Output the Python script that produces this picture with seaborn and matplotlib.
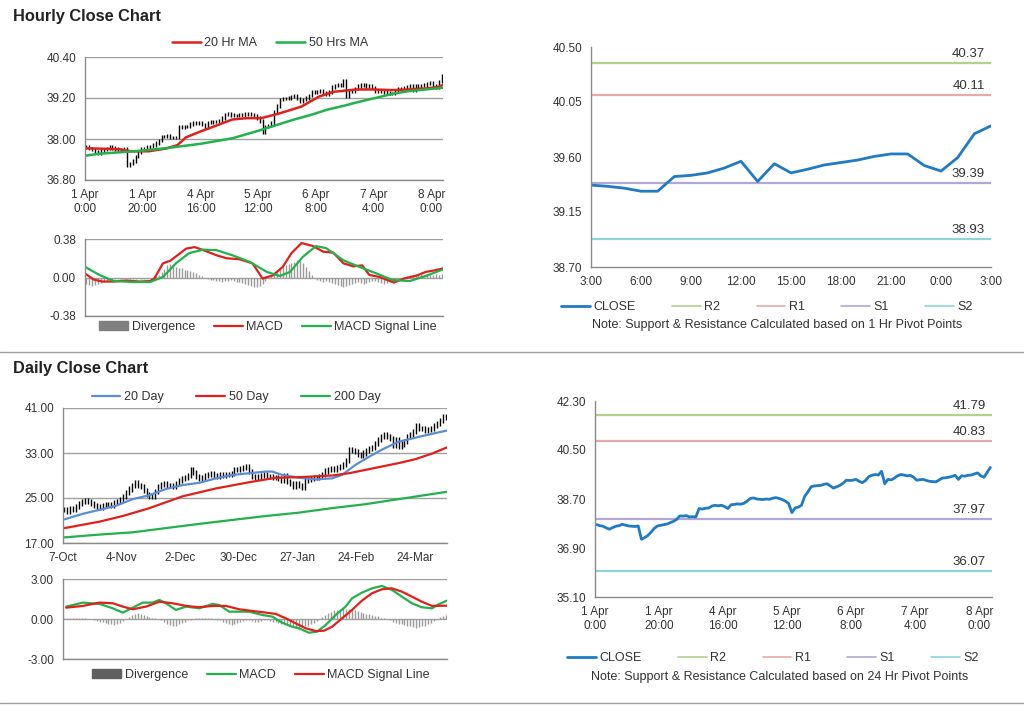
import numpy as np
import matplotlib
matplotlib.use("Agg")
import matplotlib.pyplot as plt
import matplotlib.transforms as mtransforms
from matplotlib.lines import Line2D
from matplotlib.patches import Patch
import seaborn as sns

# ── Data ──────────────────────────────────────────────────────────────────────
# hourly closes, 1 Apr 0:00 -> 8 Apr ~3:00 (weekend hours skipped)
close_h = [37.76, 37.72, 37.70, 37.64, 37.59, 37.65, 37.70, 37.72, 37.77, 37.74,
           37.71, 37.70, 37.69, 37.71, 37.22, 37.28, 37.36, 37.48, 37.62, 37.71,
           37.73, 37.76, 37.78, 37.83, 37.88, 37.95, 38.08, 38.07, 38.09, 38.04,
           38.05, 38.04, 38.35, 38.33, 38.36, 38.37, 38.44, 38.47, 38.45, 38.47,
           38.42, 38.35, 38.49, 38.50, 38.52, 38.51, 38.54, 38.62, 38.72, 38.74,
           38.70, 38.69, 38.68, 38.70, 38.69, 38.73, 38.75, 38.72, 38.68, 38.62,
           38.53, 38.20, 38.37, 38.40, 38.47, 38.80, 38.96, 39.15, 39.18, 39.19,
           39.20, 39.24, 39.26, 39.18, 39.10, 39.15, 39.20, 39.28, 39.39, 39.38,
           39.39, 39.42, 39.35, 39.30, 39.38, 39.52, 39.57, 39.60, 39.58, 39.72,
           39.26, 39.42, 39.40, 39.47, 39.55, 39.60, 39.58, 39.55, 39.57, 39.50,
           39.39, 39.41, 39.42, 39.38, 39.35, 39.34, 39.33, 39.40, 39.47, 39.48,
           39.50, 39.53, 39.57, 39.42, 39.55, 39.54, 39.57, 39.58, 39.62, 39.66,
           39.55, 39.50, 39.68, 39.86]
hourly_ticks = ["1 Apr\n0:00", "1 Apr\n20:00", "4 Apr\n16:00", "5 Apr\n12:00",
                "6 Apr\n8:00", "7 Apr\n4:00", "8 Apr\n0:00"]

ma20_h_x = [0, 12, 16, 22, 28, 32, 35, 40, 46, 51, 56, 61, 67, 75, 81, 86, 94, 100,
            106, 112, 118, 122, 124]
ma20_h = [37.73, 37.70, 37.64, 37.64, 37.72, 37.82, 38.05, 38.22, 38.41, 38.57, 38.61,
          38.61, 38.74, 38.95, 39.24, 39.38, 39.45, 39.45, 39.43, 39.45, 39.48, 39.52, 39.58]
ma50_h_x = [0, 5, 17, 28, 40, 51, 60, 66, 72, 78, 84, 90, 95, 101, 107, 112, 118, 124]
ma50_h = [37.51, 37.57, 37.64, 37.73, 37.86, 38.02, 38.24, 38.40, 38.56, 38.70, 38.86,
          38.98, 39.09, 39.21, 39.33, 39.40, 39.45, 39.50]

macd_h_x = [0, 3, 6, 10, 14, 19, 22.5, 24, 27, 29.5, 33, 35, 38, 41, 45.5, 49, 53.5, 58,
            61.5, 65, 68.5, 71.5, 75, 79, 82.5, 86, 89.5, 93, 96, 98.5, 102, 107, 110.5,
            115, 118, 121, 124]
macd_h = [0.04, -0.02, -0.04, -0.04, -0.03, -0.04, -0.035, -0.01, 0.14, 0.165, 0.24, 0.285,
          0.30, 0.27, 0.22, 0.19, 0.18, 0.14, -0.01, 0.02, 0.105, 0.24, 0.34, 0.31, 0.255,
          0.245, 0.14, 0.11, 0.12, 0.025, 0.005, -0.05, -0.01, 0.02, 0.055, 0.07, 0.09]
signal_h_x = [0, 5, 10, 17, 22.5, 27, 31.5, 36, 41, 45.5, 51, 57, 63, 67.5, 71, 75.5, 80,
              83.5, 89.5, 95, 101, 106.5, 112.5, 118, 124]
signal_h = [0.105, 0.025, -0.035, -0.045, -0.045, 0.005, 0.14, 0.24, 0.275, 0.27, 0.22,
            0.155, 0.055, 0.015, 0.055, 0.205, 0.31, 0.29, 0.17, 0.105, 0.04, -0.025,
            -0.035, 0.015, 0.08]
div_h = [-0.06, -0.07, -0.08, -0.07, -0.06, -0.05, -0.04, -0.03, -0.02, -0.02,
         -0.01, -0.01, -0.01, 0.0, -0.01, -0.01, -0.01, -0.01, 0.0, -0.01,
         -0.01, -0.01, 0.0, 0.0, 0.01, 0.02, 0.05, 0.08, 0.12, 0.13,
         0.11, 0.10, 0.09, 0.09, 0.07, 0.07, 0.06, 0.05, 0.04, 0.02,
         0.01, 0.0, -0.01, -0.02, -0.02, -0.03, -0.03, -0.04, -0.03, -0.03,
         -0.02, -0.03, -0.04, -0.04, -0.05, -0.06, -0.07, -0.08, -0.09, -0.09,
         -0.08, -0.06, -0.03, 0.0, 0.01, 0.03, 0.05, 0.08, 0.10, 0.12,
         0.13, 0.14, 0.15, 0.17, 0.16, 0.14, 0.10, 0.06, 0.02, 0.0,
         -0.02, -0.03, -0.04, -0.03, -0.04, -0.05, -0.06, -0.07, -0.08, -0.09,
         -0.08, -0.07, -0.06, -0.05, -0.04, -0.05, -0.06, -0.05, -0.04, -0.03,
         -0.03, -0.04, -0.05, -0.06, -0.05, -0.04, -0.03, -0.02, -0.01, -0.01,
         0.0, 0.01, 0.02, 0.02, 0.03, 0.02, 0.03, 0.02, 0.03, 0.02,
         0.02, 0.03, 0.02, 0.03]

# last 24 hours vs 1 Hr pivots
close_1h = [39.37, 39.36, 39.345, 39.32, 39.32, 39.44, 39.45, 39.47, 39.51, 39.565,
            39.40, 39.545, 39.47, 39.50, 39.535, 39.555, 39.575, 39.605, 39.625, 39.625,
            39.53, 39.485, 39.595, 39.79, 39.855]
hour_ticks = ["3:00", "6:00", "9:00", "12:00", "15:00", "18:00", "21:00", "0:00", "3:00"]
pivot_names = ["R2", "R1", "S1", "S2"]
pivots_1h = [40.37, 40.11, 39.39, 38.93]
pivots_24h = [41.79, 40.83, 37.97, 36.07]

# daily closes, 7-Oct -> early Apr
close_d = [23.0, 22.6, 23.2, 22.9, 23.5, 24.0, 24.4, 24.5, 24.3, 24.0,
           23.6, 23.5, 23.4, 23.6, 23.9, 23.8, 23.7, 24.2, 24.4, 24.7,
           25.3, 26.0, 26.6, 27.3, 27.8, 27.3, 27.0, 26.3, 25.6, 25.3,
           25.3, 26.2, 27.0, 27.4, 27.5, 27.3, 27.2, 27.0, 27.6, 28.1,
           28.5, 28.7, 29.0, 30.0, 29.6, 28.8, 28.5, 28.7, 29.0, 29.1,
           29.3, 29.0, 28.9, 29.1, 29.0, 29.1, 29.1, 29.4, 30.0, 30.1,
           30.3, 30.5, 30.6, 29.7, 28.8, 28.6, 28.9, 29.0, 29.1, 28.9,
           28.8, 28.7, 28.6, 28.4, 28.2, 29.0, 28.0, 27.6, 27.1, 27.5,
           27.3, 26.9, 28.2, 28.3, 28.5, 28.6, 28.7, 28.9, 29.1, 29.8,
           30.1, 30.2, 30.1, 30.4, 30.6, 30.9, 31.7, 33.6, 33.5, 33.2,
           32.8, 32.6, 33.0, 33.5, 33.8, 34.0, 34.7, 35.4, 36.0, 36.2,
           35.9, 35.6, 34.4, 35.4, 34.1, 34.6, 35.0, 35.9, 36.3, 36.8,
           37.9, 37.4, 37.3, 37.0, 37.1, 37.3, 37.9, 38.2, 38.8, 39.5,
           39.3]
daily_ticks = ["7-Oct", "4-Nov", "2-Dec", "30-Dec", "27-Jan", "24-Feb", "24-Mar"]

ma20_d_x = [0.5, 6.8, 12.5, 18, 23.8, 29.5, 35.1, 40.8, 46.5, 52.2, 57.8, 63.5, 69.2, 71.4,
            74.8, 80.5, 86.2, 91.8, 95.2, 99.8, 104.3, 108.8, 114.5, 122.4, 131]
ma20_d = [21.2, 22.2, 22.9, 23.6, 24.8, 25.5, 26.6, 27.3, 27.7, 28.5, 29.1, 29.4, 29.7, 29.7,
          29.1, 28.6, 28.3, 28.5, 29.1, 30.9, 32.3, 33.6, 35.0, 36.0, 37.0]
ma50_d_x = [0.5, 12.5, 20.4, 29.5, 40.8, 52.2, 63.5, 72.6, 80.5, 91.8, 97.5, 103.2, 108.8,
            114.5, 120.2, 125.9, 131]
ma50_d = [19.65, 20.8, 21.8, 23.2, 25.3, 26.7, 27.8, 28.6, 28.7, 29.0, 29.4, 30.0, 30.6,
          31.2, 31.9, 32.9, 34.0]
ma200_d_x = [0.5, 12.5, 23.8, 35.1, 46.5, 57.8, 69.2, 80.5, 91.8, 103.2, 114.5, 125.9, 131]
ma200_d = [18.0, 18.5, 18.9, 19.65, 20.4, 21.1, 21.8, 22.4, 23.2, 23.9, 24.8, 25.7, 26.1]

macd_d_x = [1.1, 6.8, 12.5, 17, 20.4, 23.8, 27.2, 30.6, 32.9, 35.1, 38.5, 42, 46.5, 51,
            53.3, 56.7, 60.1, 63.5, 68, 71.4, 74.8, 78.2, 80.5, 83.9, 86.7, 89.6, 93, 96.4,
            98.6, 102, 105.4, 108.8, 112.2, 115.6, 119, 122.4, 125.9, 128.1, 131]
macd_d = [0.93, 1.23, 1.13, 0.8, 0.48, 0.85, 1.23, 1.23, 1.43, 1.18, 0.68, 0.93, 0.8, 1.13,
          1.05, 0.55, 0.55, 0.55, 0.3, 0.18, -0.28, -0.58, -0.7, -1.03, -0.95, -0.45, 0.3,
          0.93, 1.55, 1.98, 2.3, 2.48, 2.18, 1.68, 1.18, 0.88, 0.8, 1.1, 1.38]
signal_d_x = [1.1, 6.8, 12.5, 17, 20.4, 23.8, 28.3, 32.9, 37.4, 42, 46.5, 51, 55.6, 60.1,
              64.6, 69.2, 72.6, 76, 79.4, 82.8, 86.2, 89, 91.8, 95.2, 98.6, 102, 105.4,
              108.8, 112.2, 115.6, 119, 122.4, 125.9, 131]
signal_d = [0.85, 0.98, 1.23, 1.18, 0.93, 0.73, 0.93, 1.3, 1.18, 0.98, 0.88, 0.98, 0.98,
            0.73, 0.6, 0.48, 0.38, 0.05, -0.33, -0.7, -0.9, -0.88, -0.58, 0.05, 0.68, 1.38,
            1.93, 2.23, 2.3, 2.05, 1.68, 1.3, 0.98, 1.0]
div_d = [0.05, 0.06, 0.08, 0.1, 0.08, 0.06, 0.05, 0.04, 0.02, 0.0,
         -0.1, -0.15, -0.2, -0.25, -0.3, -0.35, -0.4, -0.45, -0.4, -0.3,
         -0.15, 0.0, 0.15, 0.3, 0.4, 0.45, 0.4, 0.3, 0.2, 0.15,
         0.1, 0.05, 0.0, -0.05, -0.2, -0.35, -0.45, -0.55, -0.5, -0.4,
         -0.3, -0.2, -0.1, -0.05, 0.0, 0.05, 0.1, 0.1, 0.08, 0.05,
         0.05, 0.0, -0.05, -0.1, -0.2, -0.3, -0.4, -0.45, -0.4, -0.3,
         -0.2, -0.15, -0.1, -0.1, -0.15, -0.2, -0.2, -0.15, -0.1, -0.1,
         -0.15, -0.2, -0.25, -0.3, -0.35, -0.4, -0.45, -0.5, -0.55, -0.6,
         -0.65, -0.6, -0.55, -0.5, -0.4, -0.3, -0.15, 0.0, 0.15, 0.3,
         0.45, 0.55, 0.65, 0.7, 0.75, 0.8, 0.78, 0.75, 0.7, 0.65,
         0.6, 0.55, 0.45, 0.4, 0.35, 0.3, 0.25, 0.2, 0.1, 0.05,
         0.0, -0.1, -0.2, -0.3, -0.35, -0.4, -0.45, -0.5, -0.55, -0.6,
         -0.65, -0.6, -0.55, -0.5, -0.4, -0.3, -0.15, 0.0, 0.15, 0.25,
         0.3]

# ── Style ─────────────────────────────────────────────────────────────────────
sns.set_style("white")
plt.rcParams["font.family"] = ["Liberation Sans", "DejaVu Sans"]

RED = "#E0201B"
GREEN = "#21B24B"
LBLUE = "#5B8DD6"
CBLUE = "#1F7BC4"
PIV_COLORS = ["#B3D18C", "#E8A9A9", "#B4A7D6", "#8FD3E0"]
DIVC = "#9A9A9A"
AXIS = "#8A8A8A"
GRID = "#A0A0A0"
TXT = "#333333"

W, H = 1024, 705
fig = plt.figure(figsize=(W / 100, H / 100), dpi=100)
fig.patch.set_facecolor("white")


def px_axes(x0, y0, x1, y1):
    return fig.add_axes([x0 / W, 1 - y1 / H, (x1 - x0) / W, (y1 - y0) / H])


def style_ax(ax, grid=True):
    for s in ("top", "right"):
        ax.spines[s].set_visible(False)
    for s in ("left", "bottom"):
        ax.spines[s].set_color(AXIS)
        ax.spines[s].set_linewidth(1)
    ax.tick_params(colors=AXIS, labelcolor=TXT, labelsize=8.5, length=3, width=1,
                   direction="out")
    ax.yaxis.set_major_formatter(matplotlib.ticker.FormatStrFormatter("%.2f"))
    if grid:
        ax.yaxis.grid(True, color=GRID, lw=1)
        ax.set_axisbelow(True)


def candles(ax, close, pad):
    close = np.asarray(close)
    x = np.arange(len(close)) + 0.5
    opens = np.r_[close[0], close[:-1]]
    ax.vlines(x, np.minimum(opens, close) - pad, np.maximum(opens, close) + pad,
              color="black", lw=1.0)


def fig_legend(handles, labels, cx, cy, spacing=1.5, **kw):
    fig.legend(handles, labels, loc="center", bbox_to_anchor=(cx / W, 1 - cy / H),
               ncol=len(handles), frameon=False, fontsize=9, handlelength=2.3,
               handletextpad=0.3, columnspacing=spacing, labelcolor=TXT, **kw)


def pivot_panel(ax, close, pivots, ylim, xlabels, xticks):
    for val, c in zip(pivots, PIV_COLORS):
        ax.axhline(val, color=c, lw=1.6)
        ax.text(0.985, val, f"{val:.2f}", color=TXT, fontsize=9.5, ha="right",
                va="bottom", transform=mtransforms.offset_copy(
                    ax.get_yaxis_transform(), fig=fig, y=2, units="points"))
    sns.lineplot(x=np.arange(len(close)) + (0.5 if len(close) > 30 else 0), y=close,
                 ax=ax, color=CBLUE, lw=2.0, legend=False)
    style_ax(ax, grid=False)
    ax.set_ylim(*ylim)
    ax.set_yticks(np.linspace(ylim[0], ylim[1], 5))
    ax.set_xticks(xticks)
    ax.set_xticklabels(xlabels)
    ax.set_xlabel("")
    ax.set_ylabel("")


# ── Section titles / separators ───────────────────────────────────────────────
fig.text(13 / W, 1 - 16 / H, "Hourly Close Chart", fontsize=11.8, fontweight="bold",
         va="center", color="#222222")
fig.text(13 / W, 1 - 369 / H, "Daily Close Chart", fontsize=11.8, fontweight="bold",
         va="center", color="#222222")
for yy in (352, 703):
    fig.add_artist(Line2D([0, 1], [1 - yy / H] * 2, color="#A0A0A0", lw=1))

# ── 1. Hourly candles + MAs ───────────────────────────────────────────────────
nh = len(close_h)
ax = px_axes(85, 57, 443, 180)
candles(ax, close_h, 0.05)
sns.lineplot(x=ma20_h_x, y=ma20_h, ax=ax, color=RED, lw=1.8, legend=False)
sns.lineplot(x=ma50_h_x, y=ma50_h, ax=ax, color=GREEN, lw=1.8, legend=False)
style_ax(ax)
ax.set_xlim(0, nh)
ax.set_ylim(36.8, 40.4)
ax.set_yticks(np.linspace(36.8, 40.4, 4))
ax.set_xticks(np.arange(0, 121, 20))
ax.set_xticklabels(hourly_ticks)
ax.set_xlabel("")
ax.set_ylabel("")
fig_legend([Line2D([], [], color=RED, lw=1.8), Line2D([], [], color=GREEN, lw=1.8)],
           ["20 Hr MA", "50 Hrs MA"], 270, 43)

# hourly MACD
ax = px_axes(85, 239, 443, 316)
ax.vlines(np.arange(nh) + 0.5, 0, div_h, color=DIVC, lw=1.0)
sns.lineplot(x=macd_h_x, y=macd_h, ax=ax, color=RED, lw=1.6, legend=False)
sns.lineplot(x=signal_h_x, y=signal_h, ax=ax, color=GREEN, lw=1.6, legend=False)
style_ax(ax)
ax.set_xlim(0, nh)
ax.set_ylim(-0.38, 0.38)
ax.set_yticks([-0.38, 0.0, 0.38])
ax.set_xticks([])
ax.set_xlabel("")
ax.set_ylabel("")
fig_legend([Patch(color="#808080"), Line2D([], [], color=RED, lw=1.6),
            Line2D([], [], color=GREEN, lw=1.6)],
           ["Divergence", "MACD", "MACD Signal Line"], 268, 327)

# ── 2. Last 24h vs 1 Hr pivots ────────────────────────────────────────────────
ax = px_axes(591, 47, 991, 267)
pivot_panel(ax, close_1h, pivots_1h, (38.70, 40.50), hour_ticks, np.arange(0, 25, 3))
ax.set_xlim(0, 24)
piv_handles = [Line2D([], [], color=CBLUE, lw=2)] + \
    [Line2D([], [], color=c, lw=1.2) for c in PIV_COLORS]
fig_legend(piv_handles, ["CLOSE"] + pivot_names, 767, 307, spacing=2.9)
fig.text(777 / W, 1 - 325 / H,
         "Note: Support & Resistance Calculated based on 1 Hr Pivot Points",
         ha="center", va="center", fontsize=9, color=TXT)

# ── 3. Daily candles + MAs ────────────────────────────────────────────────────
nd = len(close_d)
ax = px_axes(63, 408, 447, 543)
candles(ax, close_d, 0.45)
sns.lineplot(x=ma20_d_x, y=ma20_d, ax=ax, color=LBLUE, lw=1.6, legend=False)
sns.lineplot(x=ma50_d_x, y=ma50_d, ax=ax, color=RED, lw=1.6, legend=False)
sns.lineplot(x=ma200_d_x, y=ma200_d, ax=ax, color=GREEN, lw=1.6, legend=False)
style_ax(ax)
ax.set_xlim(0, nd)
ax.set_ylim(17, 41)
ax.set_yticks([17, 25, 33, 41])
ax.set_xticks(np.arange(0, 121, 20))
ax.set_xticklabels(daily_ticks)
ax.set_xlabel("")
ax.set_ylabel("")
fig_legend([Line2D([], [], color=c, lw=1.6) for c in (LBLUE, RED, GREEN)],
           ["20 Day", "50 Day", "200 Day"], 236, 397, spacing=2.6)

# daily MACD
ax = px_axes(63, 579, 447, 659)
ax.vlines(np.arange(nd) + 0.5, 0, div_d, color=DIVC, lw=1.0)
sns.lineplot(x=macd_d_x, y=macd_d, ax=ax, color=GREEN, lw=1.6, legend=False)
sns.lineplot(x=signal_d_x, y=signal_d, ax=ax, color=RED, lw=1.6, legend=False)
style_ax(ax)
ax.set_xlim(0, nd)
ax.set_ylim(-3, 3)
ax.set_yticks([-3, 0, 3])
ax.set_xticks([])
ax.set_xlabel("")
ax.set_ylabel("")
fig_legend([Patch(color="#606060"), Line2D([], [], color=GREEN, lw=1.6),
            Line2D([], [], color=RED, lw=1.6)],
           ["Divergence", "MACD", "MACD Signal Line"], 261, 675)

# ── 4. Hourly close vs 24 Hr pivots ───────────────────────────────────────────
ax = px_axes(595, 401, 992, 597)
pivot_panel(ax, close_h, pivots_24h, (35.10, 42.30), hourly_ticks, np.arange(0, 121, 20))
ax.set_xlim(0, nh)
fig_legend(piv_handles, ["CLOSE"] + pivot_names, 773, 658, spacing=2.9)
fig.text(780 / W, 1 - 677 / H,
         "Note: Support & Resistance Calculated based on 24 Hr Pivot Points",
         ha="center", va="center", fontsize=9, color=TXT)

fig.savefig("out.png", dpi=100, facecolor="white")
